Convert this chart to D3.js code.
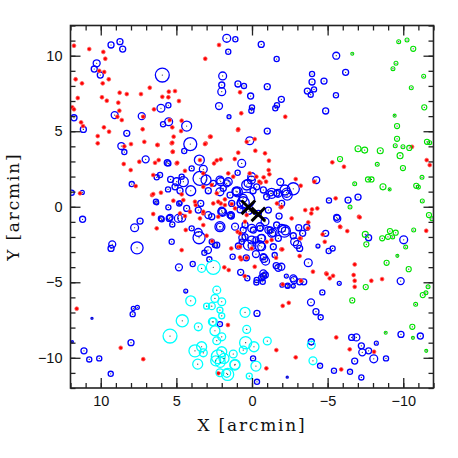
<!DOCTYPE html>
<html>
<head>
<meta charset="utf-8">
<script src="https://cdn.jsdelivr.net/npm/d3@7"></script>
<style>
  body { margin: 0; background: #fff; }
  svg { display: block; }
  .tick text { font-family: "Liberation Sans", Arial, sans-serif; font-size: 14.5px; fill: #111; }
  .axis-label { font-family: "DejaVu Serif", "Liberation Serif", serif; font-size: 17px; letter-spacing: 1.8px; fill: #111; }
</style>
</head>
<body>
<svg></svg>
<script>
// red field galaxies [x, y] in arcmin
const redPts = [
  [11.77,10.66],[10.76,10.44],[9.83,10.25],[9.7,9.8],[10.1,9.0],[9.77,8.92],[9.87,8.17],[11.66,8.44],[11.24,8.17],[11.52,7.2],
  [11.88,6.58],[11.77,6.45],[11.3,5.59],[11.17,5.34],[9.92,7.25],[9.6,7.02],[9.47,8.44],[8.75,7.55],[8.28,7.46],[8.84,6.89],
  [8.77,6.36],[8.9,5.96],[8.61,5.74],[9.79,5.26],[9.45,4.97],[10.2,4.68],[10.2,4.2],[8.44,4.0],[8.0,4.15],[8.48,2.83],
  [8.02,2.43],[7.45,2.98],[7.34,7.46],[6.76,7.88],[7.19,5.96],[7.23,5.13],[7.12,4.3],[6.48,6.45],[6.23,4.09],[6.17,3.09],
  [6.53,2.1],[5.93,7.28],[5.53,7.25],[5.5,7.62],[5.09,7.66],[4.83,7.0],[5.44,5.74],[5.27,5.26],[5.18,4.64],[5.31,4.2],
  [5.24,3.64],[4.65,5.7],[4.69,5.01],[4.98,2.87],[3.44,3.09],[3.09,9.8],[2.78,4.64],[3.06,4.2],[2.18,10.71],[2.33,3.07],
  [6.61,0.77],[6.02,0.93],[4.65,0.82],[3.72,0.11],[3.22,-0.44],[2.07,0.22],[11.37,0.89],[7.69,1.37],
  [0.79,7.58],[0.71,6.19],[-2.2,5.96],[0.93,5.08],[-0.18,4.48],[-0.22,3.71],[1.14,3.16],[-1.12,3.05],[-1.1,2.43],[-1.15,2.15],
  [-0.77,1.95],[-0.57,1.59],[-0.29,1.99],[0.15,2.21],[-2.89,1.83],[-3.22,1.39],[-1.65,0.22],[-1.9,-0.04],[-3.52,-0.22],[-3.97,-0.17],
  [-4.32,-0.11],[-3.92,-0.44],[-5.53,0.56],[-5.31,2.94],[-6.08,2.65],[-7.07,-0.66],[-10.58,3.97],[-11.55,3.09],[-11.75,2.76],
  [-11.52,-1.59],[-6.3,-1.61],[-5.84,-1.34],[-6.79,-3.82],[-6.72,-4.52],[-6.79,-4.9],[-6.79,-5.3],[-7.89,-4.9],[-8.6,-4.79],[-7.12,-0.7],
  [-4.81,-2.32],[-4.91,-4.41],[-5.14,-4.74],[-5.36,-4.57],[-4.03,-4.3],[-2.43,-6.36],[-2.03,-6.56],[-1.61,-9.49],[-2.89,-9.97],[-0.95,-10.7],
  [-5.57,-8.65],[-6.46,-9.44],[-5.9,-10.77],[-8.07,-9.6],[1.37,-2.76],[-0.18,-3.97],[-1.94,-2.82],[-3.15,-3.26],[-3.22,-2.09],[-3.7,-1.43],
  [1.59,-7.83],[0.48,-4.59],[0.71,-3.48],
  [6.3,-1.43],[4.65,-2.87],[4.38,-1.54],[3.0,-1.92],[2.64,-2.27],[1.83,-4.01],[1.54,-4.19],[11.59,-6.75],[8.68,-9.34],[7.19,-10.09],[2.23,-11.03],
  [6.26,4.09],[5.27,4.24],[5.24,3.64],[2.73,4.64],[3.11,4.15],[4.94,2.91],[6.41,2.91],[2.51,2.87],[2.07,3.14],[0.91,3.58],
  [0.91,5.13],[0.35,4.3],[1.57,2.21],[1.24,1.99],[4.43,2.38],[3.22,2.21],[3.22,1.32],[2.66,1.44],[2.33,0.89],[1.79,0.49],
  [6.53,0.84],[5.2,0.4],[4.54,0.44],[3.77,0.33],[4.1,-0.33],[3.22,-0.33],[2.56,0.22],[1.34,0.18],[1.12,-0.11],[4.76,-0.44],
  [3.44,-0.77],[2.23,-0.66],[6.53,-0.48],
  [-0.86,3.54],[-0.93,1.66],[-4.12,1.66],[-2.62,-0.77],
  [4.43,-0.62],[3.22,-1.21],[0.95,-1.66],[0.46,-0.99],[0.91,-2.65],[0.79,-3.35],[0.35,-3.38],
  [-3.72,-1.03],[-3.17,-2.09],[-5.82,-1.32],[-4.67,-1.83],[-2.0,-2.82],[-1.59,-3.38],[-4.94,-4.46],[-3.24,-4.9],[-2.03,-5.14],
  [0.02,-2.76],[-1.3,-2.2],
  [-0.48,1.66],[2.23,0.33],[1.79,0.11],[0.35,-0.55],[-1.96,0.0],[-0.97,-2.32],[0.79,-1.76],[0.79,-2.65]
];

// blue members [x, y, aperture radius] in arcmin
const bluePts = [
  [8.73,10.93,.2],[9.32,10.71,.2],[8.55,10.44,.2],[10.27,9.5,.23],[10.43,9.12,.2],[10.03,8.72,.2],[5.93,8.72,.46],[6.02,6.52,.26],
  [5.53,6.72,.17],[5.88,5.46,.17],[5.51,5.63,.26],[4.32,5.34,.33],[4.08,4.15,.43],[4.48,3.69,.17],[7.03,3.14,.23],[7.29,6.0,.23],
  [9.08,6.07,.23],[8.28,4.86,.2],[8.64,4.02,.23],[8.44,3.62,.17],[11.77,5.89,.2],[11.15,5.12,.2],[7.95,1.5,.17],[6.3,1.95,.17],
  [5.53,2.87,.17],[5.55,1.15,.17],[6.3,0.26,.13],[4.76,0.26,.13],[3.99,2.54,.17],[2.56,1.55,.2],[2.12,0.99,.26],[1.94,-0.37,.26],
  [2.0,8.06,.2],[1.94,8.66,.26],[2.0,7.62,.26],[2.18,6.67,.23],[1.67,11.15,.26],[1.57,10.26,.17],[1.52,5.96,.13],[11.92,0.93,.17],
  [11.22,0.95,.13],
  [1.1,11.09,.17],[-0.61,10.75,.2],[-1.63,9.78,.17],[-5.57,10.0,.23],[-6.19,8.9,.2],[-3.97,8.79,.17],[-3.97,8.26,.2],[-4.76,8.32,.2],
  [0.93,8.13,.2],[0.53,8.0,.17],[-1.01,7.95,.2],[-3.66,7.66,.2],[-4.1,7.77,.17],[-3.88,7.42,.17],[-5.55,7.38,.17],[0.09,7.33,.2],
  [-1.94,7.11,.2],[-1.65,6.72,.17],[-1.54,6.52,.17],[0,6.58,.17],[0.04,6.36,.17],[-4.87,6.34,.2],[-1.01,5.01,.2],[0.15,4.37,.26],
  [0.68,2.87,.26],[0.95,2.25,.17],[-4.25,1.77,.23],[-1.87,1.64,.23],[-2.73,1.19,.4],[-2.29,0.93,.3],[-1.72,0.89,.26],[-1.24,0.89,.17],
  [-2.33,0.77,.33],[-5.09,0.42,.17],[-6.35,0.44,.2],[-7.01,0.64,.2],[-5.6,-0.7,.2],[-1.79,-0.62,.2],[-0.07,1.06,.2],[0.26,1.55,.26],
  [0.04,1.77,.26],[0.97,0.99,.33],[1.37,-0.62,.2],
  [-7.71,-2.05,.2],[-10.03,-2.19,.26],[-9.83,-4.92,.23],[-4.87,-1.76,.2],[-4.36,-2.6,.13],[-5.07,-2.93,.17],[-5.33,-2.76,.17],
  [-3.72,-3.71,.26],[-5.77,-5.07,.13],[-4.65,-5.67,.17],[-3.9,-6.33,.23],[-4.23,-6.95,.2],[-4.54,-7.32,.17],[-2.78,-4.85,.23],
  [-3.15,-4.97,.2],[-3.42,-4.97,.2],[-2.33,-5.25,.13],[-1.98,-5.19,.13],[-1.94,-3.97,.23],[-1.6,-3.9,.2],[-2.27,-4.59,.13],
  [-0.88,-4.52,.2],[-0.64,-4.7,.2],[-0.71,-4.97,.17],[-0.29,-5.01,.17],[0.31,-4.74,.17],[0.75,-4.34,.2],[1.28,-3.31,.17],
  [0.38,-3.38,.2],[-0.26,-3.13,.23],[-0.79,-3.42,.26],[-0.9,-3.6,.26],[-0.51,-2.58,.33],[0,-2.58,.26],[0.64,-2.05,.23],
  [-2.14,-1.61,.4],[-1.5,-3.2,.17],[-2.82,-2.32,.26],[-3.0,-2.5,.26],[-3.15,-2.76,.2],[-3.62,-1.36,.2],[-3.09,-1.39,.2],
  [-5.64,-0.79,.23],[-0.33,-7.06,.2],[-0.07,-10.04,.17],[-0.33,-11.59,.17],[-2.33,-11.28,.07],[-3.92,-8.94,.2],[-4.5,-10.53,.17],
  [-5.42,-10.86,.17],[-6.48,-10.93,.17],[-6.79,-10.22,.2],[-6.59,-8.65,.2],[-6.9,-8.65,.23],[-7.23,-9.21,.2],[-7.29,-9.64,.23],
  [-7.71,-9.54,.2],[-8.05,-10.07,.26],[-8.22,-9.03,.13],[-8.86,-10.04,.17],[-7.23,-11.3,.17],[-9.85,-8.45,.2],[-11.13,-8.56,.2],
  [11.2,-0.83,.2],[7.76,-1.39,.26],[7.4,-0.95,.2],[9.24,-2.49,.23],[9.32,-2.76,.2],[7.6,-2.72,.4],[5.97,-0.83,.17],[5.47,-0.77,.2],
  [5.27,-1.17,.17],[5.31,-2.32,.17],[3.99,-1.43,.17],[3.55,-1.7,.26],[3.5,-2.05,.4],[2.91,-2.87,.23],[3.15,-3.05,.17],[2.45,-2.54,.17],
  [2.12,-1.32,.23],[2.82,-3.48,.17],[3.92,-3.79,.17],[4.83,-4.01,.23],[4.38,-5.58,.13],[2.12,-7.77,.17],[10.58,-7.39,.07],
  [7.85,-6.73,.13],[7.58,-6.66,.13],[7.89,-7.11,.17],[8.0,-9.0,.2],[11.88,-8.94,.07],[11.11,-9.54,.2],[10.76,-10.11,.17],
  [10.1,-10.04,.17],[9.34,-11.06,.17],
  [5.6,2.91,.2],[3.48,3.09,.33],[3.22,2.48,.26],[3.44,1.88,.46],[3.04,1.77,.33],[4.05,1.06,.33],[4.65,1.99,.17],[4.98,1.66,.26],
  [5.38,1.81,.2],[6.08,2.1,.17],[4.76,1.06,.2],[5.09,1.32,.2],[4.54,1.66,.33],[2.89,1.06,.2],[2.07,1.66,.26],[1.67,1.55,.23],
  [1.45,0.77,.2],[1.01,0.99,.26],[0.58,0.26,.4],[6.35,0.33,.17],[5.53,-0.04,.17],[4.81,0.22,.17],[4.32,-0.11,.2],[3.39,0.22,.2],
  [3.55,-0.22,.2],[2.89,-0.55,.23],[2.0,-0.26,.23],[1.39,-0.55,.23],[6.02,-0.77,.17],[5.42,-0.7,.2],
  [4.87,-0.77,.26],[4.65,-0.75,.26],[2.66,-0.66,.2],[2.66,-2.32,.17],[0.58,-1.54,.2],
  [-0.09,-1.54,.2],[-0.53,-1.43,.2],[-1.2,-1.54,.2],[-1.4,-1.7,.26],[-3.35,-1.76,.2],[-2.73,-1.92,.2],[-0.26,-2.2,.2],
  [-0.6,-2.1,.26],[-0.64,-2.65,.26],[-0.75,-3.31,.2],[-1.74,-4.04,.23],[-0.75,-4.41,.23],[-0.75,-4.6,.2],[-0.31,-4.85,.17],
  [-2.73,-4.74,.23],[-2.73,-5.25,.13],[-2.36,-5.23,.17],
  [2.12,1.77,.26],[1.57,1.66,.26],[1.9,1.22,.2],[1.06,1.04,.26],[0.35,1.44,.33],[0.02,1.99,.26],[-0.31,1.32,.2],[-0.75,1.11,.2],
  [-0.97,0.66,.2],[-1.3,0.89,.33],[-2.18,1.11,.33],[-1.63,0.89,.2],[-1.96,0.22,.2],[0.35,0.44,.53],[0.58,0.56,.26],[0.79,0.22,.2],
  [1.34,0.22,.2],[2.0,-0.33,.26],[1.45,-0.55,.2],[2.12,-1.32,.33],[1.12,-1.32,.23],[0.46,-1.21,.2],[0.02,-1.43,.26],[-0.53,-1.32,.26],
  [-0.86,-0.99,.26],[-1.08,-1.54,.23],[-1.3,-1.76,.26],[-0.64,-2.09,.26],[0.02,-2.2,.26],[0.46,-1.99,.2],[0.68,-2.32,.17],
  [-1.74,-2.09,.2],[-1.96,-1.43,.26],[-2.2,-1.6,.26],[-1.63,-1.21,.2],[-0.42,-0.44,.2],[-1.08,-0.22,.2],[0.2,-0.3,.2],[0.79,-0.2,.2],
  [2.33,-2.54,.2],[0.24,-2.54,.33],[0.9,-2.6,.2],[-1.41,-2.65,.2]
];

// green background group [x, y, radius]
const greenPts = [
  [-9.7,10.93,.13],[-10.25,11.04,.13],[-10.66,10.46,.17],[-6.63,10.13,.1],[-9.52,9.5,.13],[-9.32,9.14,.13],[-11.35,8.64,.13],
  [-10.53,7.88,.13],[-11.39,6.58,.17],[-9.43,6.03,.1],[-9.59,5.34,.17],[-9.59,4.5,.17],[-9.47,4.04,.13],[-9.98,3.97,.13],
  [-10.4,3.89,.17],[-11.57,4.3,.17],[-11.75,4.24,.13],[-7.01,3.84,.2],[-7.45,3.75,.2],[-8.48,3.71,.2],[-9.79,3.38,.2],
  [-5.82,3.16,.17],[-8.28,2.81,.13],[-9.98,2.56,.17],[-11.24,1.95,.13],[-7.67,1.81,.17],[-7.9,1.81,.17],[-6.79,1.52,.13],
  [-8.66,1.32,.2],[-9.1,1.15,.1],[-10.86,1.39,.17],[-11.0,1.3,.13],[-11.26,0.38,.13],[-6.48,-0.02,.13],[-11.7,-0.55,.17],
  [-11.9,-0.8,.13],[-7.49,-1.83,.2],[-7.56,-2.49,.17],[-8.61,-2.09,.17],[-8.99,-1.99,.17],[-9.12,-1.61,.17],[-9.5,-1.72,.17],
  [-9.3,-2.0,.13],[-10.16,-2.67,.13],[-10.69,-1.54,.13],[-9.61,-3.25,.1],[-8.9,-3.71,.17],[-10.36,-4.13,.17],[-11.64,-5.3,.13],
  [-11.29,-5.85,.17],[-11.5,-5.7,.13],[-10.82,-6.46,.13],[-7.52,-5.32,.17],[-6.63,-6.2,.17],[-10.6,-7.95,.17],[-10.64,-8.68,.1],
  [-8.84,-8.34,.1],[-11.52,-9.54,.1]
];

// cyan southern group [x, y, radius]
const cyanPts = [
  [3.33,-4.08,.26],[2.56,-4.01,.46],[2.33,-5.52,.26],[2.45,-6.07,.26],[2.0,-6.29,.26],[2.66,-6.58,.23],[2.12,-6.84,.2],[2.0,-7.22,.2],
  [3.0,-6.58,.2],[4.05,-6.23,.33],[4.61,-7.55,.4],[5.42,-8.56,.46],[3.55,-7.95,.26],[2.56,-7.62,.26],[2.45,-8.21,.33],[2.33,-8.87,.26],
  [2.0,-8.61,.26],[0.46,-6.99,.33],[0.35,-8.12,.26],[0.42,-9.0,.4],[-0.13,-9.27,.33],[-1.01,-8.89,.26],[0.58,-9.49,.26],[3.77,-9.54,.4],
  [3.33,-9.27,.33],[3.22,-9.67,.26],[3.59,-10.42,.33],[2.23,-9.93,.46],[2.0,-9.6,.33],[1.85,-10.04,.33],[2.1,-10.3,.33],[2.4,-10.2,.33],
  [1.24,-9.75,.26],[1.12,-10.44,.33],[1.61,-11.1,.4],[2.12,-10.99,.26],[-0.26,-10.55,.33],[0.18,-11.21,.2],[1.14,-10.48,.33],
  [-3.92,-9.16,.26],[-4.03,-10.2,.26],[1.67,-11.03,.26],[2.62,-7.62,.26]
];

// cluster centres
const centres = [[0.24,-0.04],[-0.42,-0.5]];

const majorTicks = [-10, -5, 0, 5, 10];
const minorTicks = d3.range(-12, 13);

const W = 458, H = 458;
const margin = { top: 25.5, right: 24.5, bottom: 70, left: 70.5 };
const width = W - margin.left - margin.right;
const height = H - margin.top - margin.bottom;

const svg = d3.select("svg").attr("width", W).attr("height", H);
const g = svg.append("g").attr("transform", `translate(${margin.left},${margin.top})`);

const x = d3.scaleLinear().domain([12, -12]).range([0, width]);
const y = d3.scaleLinear().domain([-12, 12]).range([height, 0]);
const rad = s => Math.abs(x(0) - x(s));

g.append("clipPath").attr("id", "clip")
  .append("rect").attr("width", width).attr("height", height);

const pts = g.append("g").attr("clip-path", "url(#clip)");

function rings(data, color, sw) {
  const grp = pts.append("g");
  grp.selectAll("circle.ring").data(data).join("circle")
    .attr("class", "ring")
    .attr("cx", d => x(d[0])).attr("cy", d => y(d[1]))
    .attr("r", d => rad(d[2]))
    .attr("fill", "none")
    .attr("stroke", color)
    .attr("stroke-width", sw);
  grp.selectAll("circle.dot").data(data).join("circle")
    .attr("class", "dot")
    .attr("cx", d => x(d[0])).attr("cy", d => y(d[1]))
    .attr("r", 0.6)
    .attr("fill", "#333");
}

rings(bluePts, "#0000ff", 1.3);

pts.append("g").selectAll("circle").data(redPts).join("circle")
  .attr("cx", d => x(d[0])).attr("cy", d => y(d[1]))
  .attr("r", 1.9)
  .attr("fill", "#ff0000")
  .attr("stroke", "#ff6060")
  .attr("stroke-width", 0.8);

rings(cyanPts, "#00ffff", 1.3);
rings(greenPts, "#00e000", 1.1);

// centre crosses
const cs = 0.45;
pts.append("g").selectAll("path").data(centres).join("path")
  .attr("d", d => `M${x(d[0] + cs)},${y(d[1] + cs)}L${x(d[0] - cs)},${y(d[1] - cs)}` +
                  `M${x(d[0] + cs)},${y(d[1] - cs)}L${x(d[0] - cs)},${y(d[1] + cs)}`)
  .attr("stroke", "#000")
  .attr("stroke-width", 3)
  .attr("fill", "none");

// axes: ticks inward on all four sides, labels only bottom and left
function drawAxis(axisFn, scale, transform, labelled, pad) {
  const major = axisFn(scale).tickValues(majorTicks).tickSize(-10).tickPadding(pad);
  if (!labelled) major.tickFormat("");
  const minor = axisFn(scale).tickValues(minorTicks).tickSize(-5).tickFormat("");
  const ga = g.append("g").attr("transform", transform).call(minor);
  const gb = g.append("g").attr("transform", transform).call(major);
  [ga, gb].forEach(s => {
    s.select(".domain").remove();
    s.selectAll(".tick line").attr("stroke", "#222").attr("stroke-width", 1.3);
  });
  return gb;
}

drawAxis(d3.axisBottom, x, `translate(0,${height})`, true, 8);
drawAxis(d3.axisTop, x, `translate(0,0)`, false, 0);
drawAxis(d3.axisLeft, y, `translate(0,0)`, true, 8);
drawAxis(d3.axisRight, y, `translate(${width},0)`, false, 0);

g.append("rect")
  .attr("width", width).attr("height", height)
  .attr("fill", "none").attr("stroke", "#222").attr("stroke-width", 1.6);

g.append("text")
  .attr("class", "axis-label")
  .attr("text-anchor", "middle")
  .attr("x", width / 2)
  .attr("y", height + 43)
  .text("X [arcmin]");

g.append("text")
  .attr("class", "axis-label")
  .attr("text-anchor", "middle")
  .attr("transform", "rotate(-90)")
  .attr("x", -height / 2)
  .attr("y", -margin.left + 19)
  .text("Y [arcmin]");
</script>
</body>
</html>
